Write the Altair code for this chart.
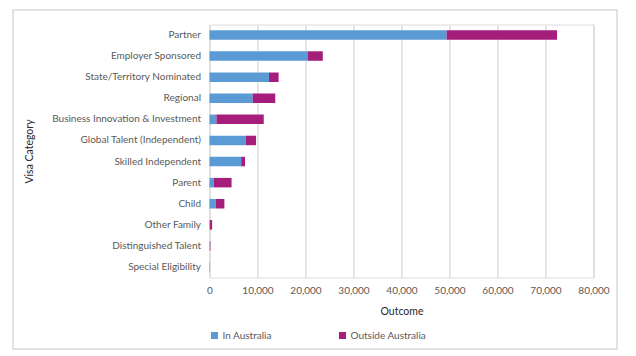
import altair as alt
import pandas as pd

categories = ["Partner", "Employer Sponsored", "State/Territory Nominated", "Regional",
              "Business Innovation & Investment", "Global Talent (Independent)",
              "Skilled Independent", "Parent", "Child", "Other Family",
              "Distinguished Talent", "Special Eligibility"]
in_australia = [49400, 20500, 12400, 9000, 1450, 7600, 6600, 900, 1300, 100, 120, 50]
outside_australia = [23000, 3100, 2000, 4700, 9850, 2100, 800, 3700, 1800, 450, 80, 30]

rows = []
for c, a, o in zip(categories, in_australia, outside_australia):
    rows.append({"cat": c, "series": "In Australia", "value": a, "ord": 0})
    rows.append({"cat": c, "series": "Outside Australia", "value": o, "ord": 1})
df = pd.DataFrame(rows)

FONT = "Lato"
LABEL = "#595959"

bars = alt.Chart(df).mark_bar().encode(
    y=alt.Y("cat:N", sort=categories, title="Visa Category",
            scale=alt.Scale(paddingInner=0.55, paddingOuter=0.27),
            axis=alt.Axis(ticks=False, domain=False, labelPadding=9, labelColor=LABEL,
                          labelFontSize=10, labelFont=FONT, titleFont=FONT, titleFontSize=10.5,
                          titleColor="#262626", titleFontWeight="normal", titlePadding=17,
                          labelLimit=300)),
    x=alt.X("value:Q", stack="zero", title="Outcome",
            scale=alt.Scale(domain=[0, 80000], nice=False),
            axis=alt.Axis(values=list(range(0, 80001, 10000)), format=",.0f", ticks=False, domain=False,
                          labelFlush=False, labelOverlap=False,
                          labelColor=LABEL, labelFontSize=10, labelFont=FONT, labelPadding=8,
                          gridColor="#d9d9d9", gridWidth=1.3,
                          titleFont=FONT, titleFontSize=10.5, titleColor="#262626",
                          titleFontWeight="normal", titlePadding=11)),
    color=alt.Color("series:N", scale=alt.Scale(domain=["In Australia", "Outside Australia"],
                                                range=["#5B9BD5", "#A51E7C"]),
                    legend=alt.Legend(title=None, orient="none", legendX=0, legendY=306,
                                      direction="horizontal", symbolType="square", symbolSize=50,
                                      symbolStrokeWidth=0, labelFont=FONT, labelFontSize=10,
                                      labelColor=LABEL, columnPadding=65, labelOffset=3)),
    order=alt.Order("ord:Q"),
)

frame = alt.Chart(pd.DataFrame({"a": [0]})).mark_rect(
    fill=None, stroke="#d9d9d9", strokeWidth=1.5, clip=False
).encode(x=alt.value(-196.5), x2=alt.value(407.5), y=alt.value(-14.5), y2=alt.value(324.5))

chart = alt.layer(frame, bars).properties(
    width=384, height=253,
    autosize=alt.AutoSizeParams(type="none"),
    padding={"left": 209.5, "top": 24.5, "right": 42.5, "bottom": 78.5},
).configure_view(stroke=None).configure(background="white")

chart.save("out.html", embed_options={"renderer": "svg", "actions": False})
